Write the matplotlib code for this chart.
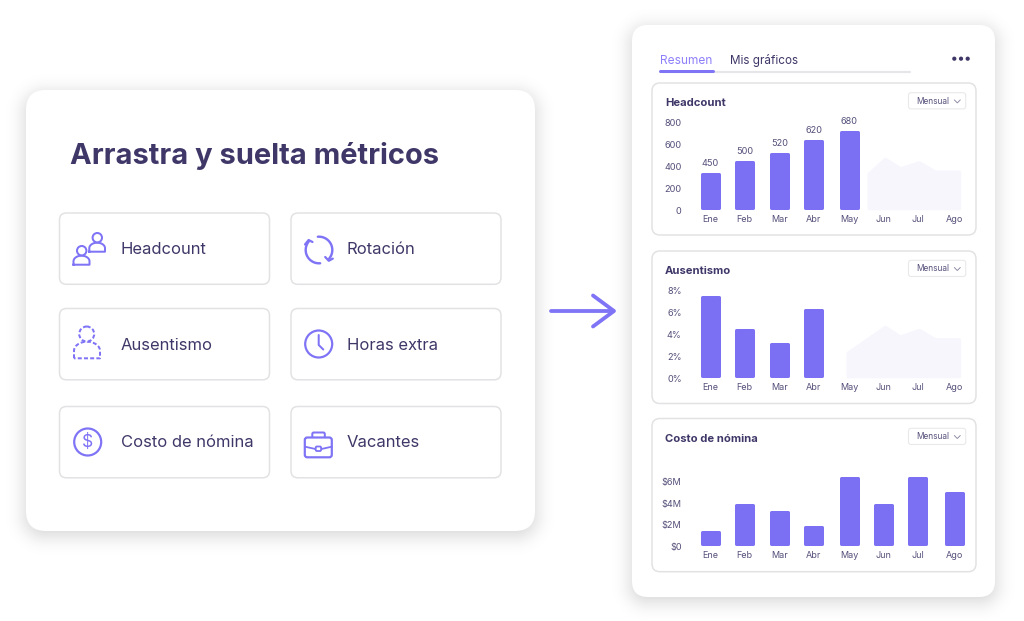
import math
import numpy as np
import matplotlib
matplotlib.use("Agg")
import matplotlib.pyplot as plt
from matplotlib.patches import FancyBboxPatch, Circle
from matplotlib.transforms import ScaledTranslation

plt.rcParams['font.family'] = ['Inter', 'DejaVu Sans']

# ---- data ----
months = ['Ene', 'Feb', 'Mar', 'Abr', 'May', 'Jun', 'Jul', 'Ago']
month_x = [710.5, 744.7, 779.5, 813.8, 849.3, 883.3, 917.5, 954]

headcount_bars = [305, 418, 487, 603, 689]
headcount_labels = ['450', '500', '520', '620', '680']
headcount_ticks = [0, 200, 400, 600, 800]
headcount_ticklabels = ['0', '200', '400', '600', '800']
headcount_ghost_x = [869, 885, 900, 919, 935, 958.7]
headcount_ghost = [310, 441, 355, 410, 325, 325]

ausentismo_bars = [7.15, 4.18, 2.87, 6.0]
ausentismo_ticks = [0, 2, 4, 6, 8]
ausentismo_ticklabels = ['0%', '2%', '4%', '6%', '8%']
ausentismo_ghost_x = [848, 885, 900, 919, 935, 958.7]
ausentismo_ghost = [2.08, 4.41, 3.53, 4.14, 3.28, 3.28]

costo_bars = [1.05, 3.52, 2.9, 1.52, 6.11, 3.52, 6.11, 4.66]
costo_ticks = [0, 2, 4, 6]
costo_ticklabels = ['$0', '$2M', '$4M', '$6M']

metric_items = [('Headcount', 121, 249.5), ('Rotación', 347, 249.5),
                ('Ausentismo', 121, 345), ('Horas extra', 347, 345),
                ('Costo de nómina', 121, 442.5), ('Vacantes', 347, 442.5)]

# ---- styles ----
PURPLE = '#7B70F3'
ICON = '#7F73F6'
DARK = '#3F3768'
MID = '#55507A'
BORDER = '#E2E2E4'
GHOST = '#F7F6FD'
PX = 0.72

W, H = 1024, 621
fig = plt.figure(figsize=(W / 100, H / 100), dpi=100, facecolor='white')
bg = fig.add_axes([0, 0, 1, 1])
bg.set_xlim(0, W)
bg.set_ylim(H, 0)
bg.axis('off')


def rrect(x0, y0, x1, y1, r, fc='white', ec='none', lw=0, alpha=None, z=1):
    p = FancyBboxPatch((x0, y0), x1 - x0, y1 - y0,
                       boxstyle=f'round,pad=0,rounding_size={r}',
                       fc=fc, ec=ec, lw=lw * PX, alpha=alpha, zorder=z)
    bg.add_patch(p)
    return p


# soft card shadows, painted as one greyscale image
cards = [(26, 90, 535, 531, 20), (632, 25, 995, 597, 16)]
yy, xx = np.mgrid[0:H, 0:W] + 0.5
erfc = np.vectorize(math.erfc)
light = np.ones((H, W))
for x0, y0, x1, y1, r in cards:
    qx = np.abs(xx - (x0 + x1) / 2) - ((x1 - x0) / 2 - r)
    qy = np.abs(yy - (y0 + y1) / 2 + 0 - 4) - ((y1 - y0) / 2 - r)
    d = np.hypot(np.maximum(qx, 0), np.maximum(qy, 0)) + np.minimum(np.maximum(qx, qy), 0) - r
    near = d < 45
    s = np.zeros_like(d)
    s[near] = 0.5 * erfc(d[near] / (10.0 * math.sqrt(2)))
    light *= 1 - 0.18 * s
bg.imshow(light, cmap='gray', vmin=0, vmax=1, extent=(0, W, H, 0), aspect='auto',
          interpolation='bilinear', zorder=0)
bg.set_xlim(0, W)
bg.set_ylim(H, 0)
for x0, y0, x1, y1, r in cards:
    rrect(x0, y0, x1, y1, r, fc='white', z=2)


def line(xs, ys, color=ICON, lw=2.0, ls='-', z=4):
    bg.plot(xs, ys, color=color, lw=lw * PX, ls=ls, zorder=z,
            solid_capstyle='round', solid_joinstyle='round')


def txt(x, y, s, size, color=DARK, weight='normal', ha='left', z=5):
    bg.text(x, y, s, fontsize=size * PX, color=color, fontweight=weight,
            ha=ha, va='center', zorder=z)


# left card
txt(70, 155.5, 'Arrastra y suelta métricos', 29.1, weight='bold')
for x0 in (59.5, 291):
    for y0 in (213, 308.5, 406.5):
        rrect(x0, y0, x0 + 210, y0 + 71.3, 7, fc='white', ec=BORDER, lw=1.5, z=3)
for name, x, y in metric_items:
    txt(x, y, name, 16.6)


# icons
def person(cx_head, cy_head, rh, x0, x1, y0, y1, ls='-'):
    r = (x1 - x0) / 2
    t = np.linspace(np.pi, 0, 30)
    xs = np.r_[x0, (x0 + x1) / 2 + r * np.cos(t), x1, x0]
    yt = y0 + r * 0.7
    ys = np.r_[y1, yt - r * 0.7 * np.sin(t), y1, y1]
    bg.plot(xs, ys, color=ICON, lw=2 * PX, ls=ls, zorder=3.9, solid_joinstyle='round')
    bg.add_patch(Circle((cx_head, cy_head), rh, fc='white', ec=ICON, lw=2 * PX, ls=ls, zorder=4))


person(97.3, 237.7, 4.7, 89.3, 105, 242.7, 251.7)
person(81.7, 250.7, 4.7, 73.5, 89.5, 255.7, 264.7)
person(86.7, 334, 7.5, 74, 100, 341.7, 358.3, ls=(0, (2, 1.1)))

bg.add_patch(Circle((87.7, 442), 13.5, fc='none', ec=ICON, lw=2.2 * PX, zorder=4))
txt(87.7, 442.5, '$', 17.5, color=ICON, ha='center')


def arc(cx, cy, r, a0, a1):
    t = np.radians(np.linspace(a0, a1, 50))
    return cx + r * np.cos(t), cy - r * np.sin(t)


xs, ys = arc(319, 250, 13.3, 275, 140)
line(xs, ys, lw=2.4)
line([305, 308.6, 312.5], [244.5, 240, 242], lw=2.2)
xs, ys = arc(319, 250, 13.3, 95, -40)
line(xs, ys, lw=2.4)
line([325.2, 328.8, 332.8], [257, 260.8, 258.6], lw=2.2)

bg.add_patch(Circle((318.7, 344), 13.5, fc='none', ec=ICON, lw=2.2 * PX, zorder=4))
line([318.7, 318.7, 323.3], [335, 345, 349.5], lw=2)

rrect(312.3, 432.5, 324.8, 441, 1.5, fc='white', ec=ICON, lw=2, z=3.5)
rrect(304.8, 437.5, 331.8, 457.3, 2.5, fc='white', ec=ICON, lw=2.2, z=3.6)
line([305, 315.5], [446.7, 449], lw=1.8)
line([321.5, 331.7], [449, 446.7], lw=1.8)
rrect(315.7, 446.5, 321.1, 451, 1.2, fc='white', ec=ICON, lw=1.8, z=4)

# arrow
line([551, 613], [311, 311], color=ICON, lw=3.8)
line([593, 614, 593], [295.5, 311, 326.5], color=ICON, lw=3.8)

# right card header
txt(660, 61, 'Resumen', 11.9, color='#8D80FA')
txt(730, 60.8, 'Mis gráficos', 11.7)
line([660, 910], [71.5, 71.5], color='#E6E6EA', lw=2.2)
line([660, 713], [71, 71], color=ICON, lw=3)
for cx in (954.3, 961, 967.7):
    bg.add_patch(Circle((cx, 58.7), 2.1, fc=DARK, ec='none', zorder=5))

# sub-cards
titles = [('Headcount', 83, 235, 102.8, 92.7), ('Ausentismo', 251, 403.5, 270.8, 260.3),
          ('Costo de nómina', 418.5, 571.7, 438.8, 428.3)]
for name, y0, y1, ty, dy in titles:
    rrect(652, y0, 976, y1, 8, fc='white', ec=BORDER, lw=1.5, z=3)
    txt(665, ty, name, 11.2, weight='bold')
    rrect(908.5, dy, 965.7, dy + 16.2, 2.5, fc='white', ec='#E9E9EC', lw=1.1, z=3.5)
    txt(916, dy + 8.6, 'Mensual', 8.3, color=MID)
    line([954.3, 957.3, 960.3], [dy + 7.2, dy + 10.2, dy + 7.2], color='#8A87A0', lw=0.9)


def chart(base_px, scale, n_bars, bars, ticks, ticklabels, month_y, ghost_x=None, ghost=None):
    """Inset axes whose x unit is one pixel and whose y scale follows the tick spacing."""
    left, right, height = 690, 972, 100.0
    ax = fig.add_axes([left / W, 1 - base_px / H, (right - left) / W, height / H], zorder=5)
    ax.patch.set_alpha(0)
    ax.set_xlim(left, right)
    ax.set_ylim(0, height / scale)
    for s in ax.spines.values():
        s.set_visible(False)
    if ghost is not None:
        ax.fill_between(ghost_x, ghost, 0, facecolor=GHOST, edgecolor=GHOST,
                        lw=4 * PX, joinstyle='round', clip_on=False, zorder=1)
    rects = ax.bar(month_x[:n_bars], bars, width=17, color=PURPLE, edgecolor=PURPLE,
                   lw=3 * PX, joinstyle='round', clip_on=False, zorder=3)
    ax.set_xticks(month_x, months)
    ax.set_yticks(ticks, ticklabels)
    ax.tick_params(axis='x', length=0, pad=(month_y + 0.2 - base_px) * PX, labelsize=9 * PX, labelcolor=MID)
    ax.tick_params(axis='y', length=0, pad=6, labelsize=9.2 * PX, labelcolor=MID)
    for lb in ax.get_xticklabels():
        lb.set_verticalalignment('center')
    shift = ScaledTranslation(0, -2.8 / 100, fig.dpi_scale_trans)
    for lb in ax.get_yticklabels():
        lb.set_transform(lb.get_transform() + shift)
    return ax, rects


ax1, r1 = chart(207.8, 0.11, 5, headcount_bars, headcount_ticks, headcount_ticklabels, 219,
                headcount_ghost_x, headcount_ghost)
for xv, v, s in zip(month_x, headcount_bars, headcount_labels):
    ax1.annotate(s, (xv, v), xytext=(0, 7.6), textcoords='offset points', ha='center', va='center',
                 fontsize=9.2 * PX, color=MID, zorder=6, annotation_clip=False)

chart(375.8, 11, 4, ausentismo_bars, ausentismo_ticks, ausentismo_ticklabels, 386.8,
      ausentismo_ghost_x, ausentismo_ghost)
chart(543.5, 10.8, 8, costo_bars, costo_ticks, costo_ticklabels, 554.8)

fig.savefig('out.png', dpi=100, facecolor='white')
